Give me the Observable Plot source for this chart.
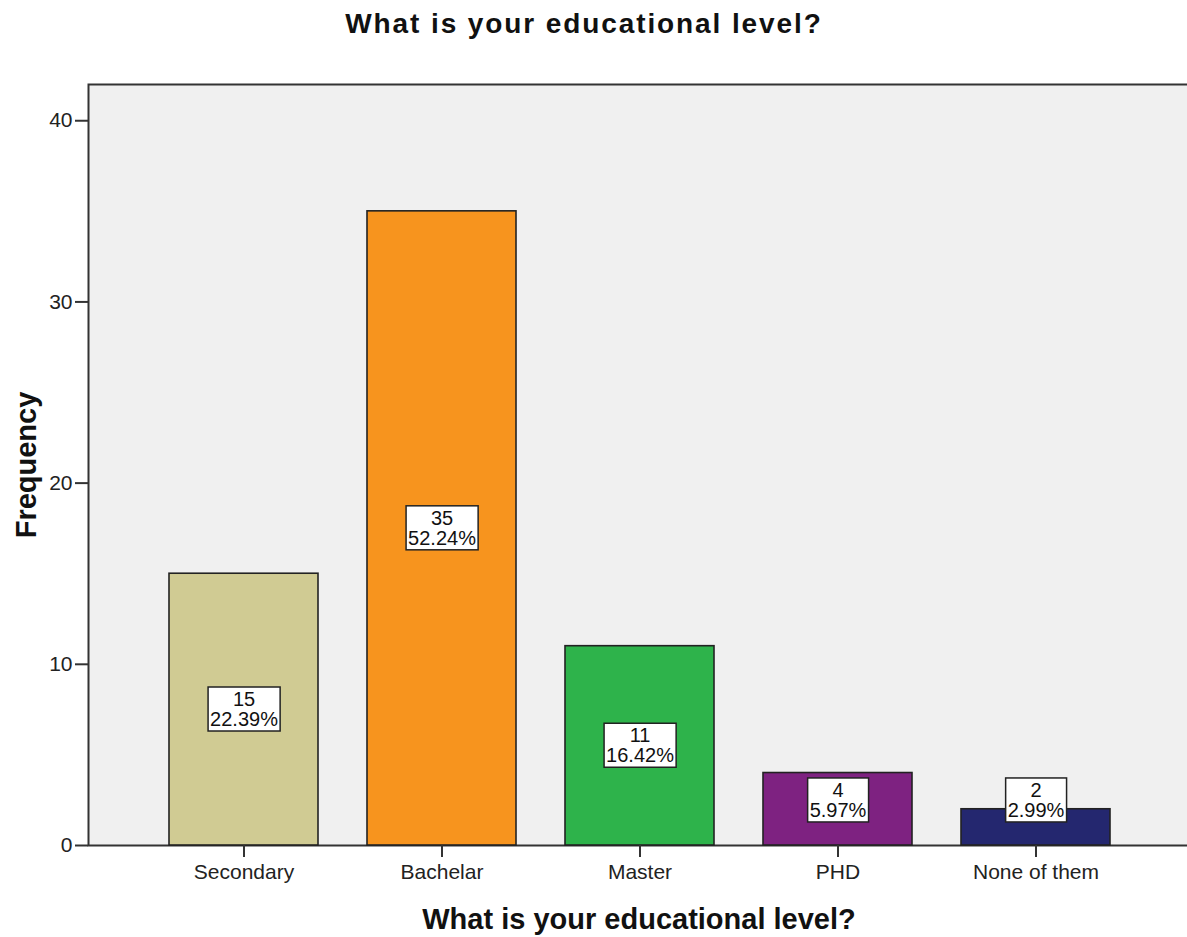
<!DOCTYPE html>
<html><head><meta charset="utf-8">
<script src="https://cdn.jsdelivr.net/npm/d3@7"></script>
<script src="https://cdn.jsdelivr.net/npm/@observablehq/plot@0.6"></script>
<style>
html,body{margin:0;padding:0;background:#fff;overflow:hidden;}
#chart{width:1187px;height:937px;overflow:hidden;}
#chart svg{max-width:none !important;}
</style></head><body><div id="chart"></div>
<script>
const categories = ["Secondary", "Bachelar", "Master", "PHD", "None of them"];
const frequencies = [15, 35, 11, 4, 2];
const percentLabels = ["22.39%", "52.24%", "16.42%", "5.97%", "2.99%"];
const barColors = ["#d0cb93", "#f7941e", "#2eb34b", "#7e2281", "#24276f"];
const yTicks = [0, 10, 20, 30, 40];
const titleText = "What is your educational level?";
const xTitle = "What is your educational level?";
const yTitle = "Frequency";

const data = categories.map((c, i) => ({category: c, value: frequencies[i], pct: percentLabels[i]}));

const font = "'Liberation Sans', Arial, sans-serif";
const plot = Plot.plot({
  width: 1200, height: 937,
  marginLeft: 88, marginRight: 0, marginTop: 84, marginBottom: 92,
  style: {fontFamily: font, background: "#fff", color: "#222", overflow: "visible", maxWidth: "none"},
  x: {type: "band", domain: categories, paddingInner: 0.248, paddingOuter: 0.124, insetLeft: 55.5, insetRight: 65.5, label: null},
  y: {domain: [0, 42], label: null},
  color: {type: "ordinal", domain: categories, range: barColors},
  marks: [
    Plot.frame({fill: "#f0f0f0", stroke: "#333", strokeWidth: 2}),
    Plot.barY(data, {x: "category", y: "value", fill: "category", stroke: "#222", strokeWidth: 1.6}),
    Plot.text(data, {x: "category", y: d => Math.max(d.value / 2, 2.48), text: d => `${d.value}\n${d.pct}`,
      fontSize: 20, lineHeight: 1, fill: "#111"}),
    Plot.axisY({ticks: yTicks, tickSize: 13, tickPadding: 3, fontSize: 21, stroke: "#333", strokeWidth: 2, label: null}),
    Plot.axisX({tickSize: 12, tickPadding: 7, fontSize: 21, stroke: "#333", strokeWidth: 2, label: null}),
    Plot.text([titleText], {frameAnchor: "top", textAnchor: "middle", lineAnchor: "top", dy: -71, dx: -60.5, fontSize: 28, fontWeight: "bold", fill: "#111"}),
    Plot.text([xTitle], {frameAnchor: "bottom", textAnchor: "middle", lineAnchor: "top", dy: 63, dx: -5.5, fontSize: 29, fontWeight: "bold", fill: "#111"}),
    Plot.text([yTitle], {frameAnchor: "left", textAnchor: "middle", lineAnchor: "middle", rotate: -90, dx: -61.3, fontSize: 29, fontWeight: "bold", fill: "#111"})
  ]
});
document.getElementById("chart").appendChild(plot);

// letter spacing for the top title only (first text with that content)
let titleDone = false;
d3.select(plot).selectAll("text").each(function() {
  const t = this.textContent;
  if (t === titleText) {
    if (!titleDone) { this.style.letterSpacing = "1.9px"; titleDone = true; }
    return;
  }
  // white label boxes behind the bar value texts, sized from the rendered text
  if (!t.includes("%") || this.querySelectorAll("tspan").length < 2) return;
  const b = this.getBBox();
  const r = document.createElementNS("http://www.w3.org/2000/svg", "rect");
  r.setAttribute("x", b.x - 2);
  r.setAttribute("y", b.y - 1);
  r.setAttribute("width", b.width + 4);
  r.setAttribute("height", b.height + 2);
  r.setAttribute("fill", "#fff");
  r.setAttribute("stroke", "#222");
  r.setAttribute("stroke-width", 1.5);
  const tr = this.getAttribute("transform");
  if (tr) r.setAttribute("transform", tr);
  this.parentNode.insertBefore(r, this);
});
</script>
</body></html>
